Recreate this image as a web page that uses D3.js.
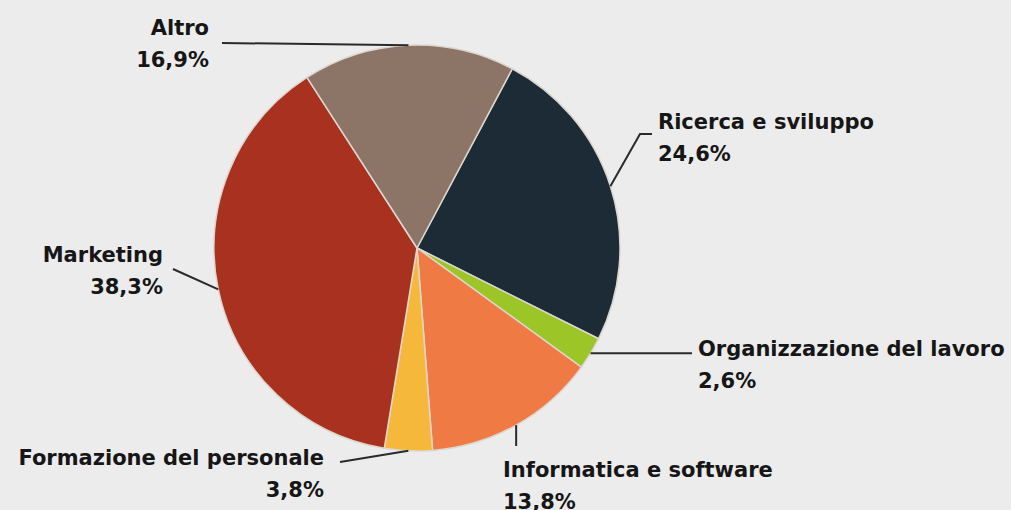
<!DOCTYPE html>
<html>
<head>
<meta charset="utf-8">
<script src="https://cdn.jsdelivr.net/npm/d3@7"></script>
<style>
  html, body { margin: 0; padding: 0; background: #ececec; }
  svg { display: block; }
  .lbl { font-family: "DejaVu Sans", sans-serif; font-weight: bold; font-size: 21px; fill: #161616; }
</style>
</head>
<body>
<svg id="chart"></svg>
<script>
// data, clockwise from the Ricerca slice
const categories = ["Ricerca e sviluppo", "Organizzazione del lavoro", "Informatica e software",
                    "Formazione del personale", "Marketing", "Altro"];
const values = [24.6, 2.6, 13.8, 3.8, 38.3, 16.9];
const valueLabels = ["24,6%", "2,6%", "13,8%", "3,8%", "38,3%", "16,9%"];
const colors = ["#1c2b35", "#9cc628", "#f07a43", "#f5b83a", "#a8321f", "#8c7467"];

const W = 1011, H = 510;
const cx = 417, cy = 248, R = 203;

// label layout, relative to pie centre: where the text sits and how the leader bends
const labelLayout = [
    { x: 241, y: -119, anchor: "start", path: (p) => [p, [223, -114], [235, -114]] },
    { x: 281, y: 108, anchor: "start", path: (p) => [p, [275, p[1]]] },
    { x: 86, y: 229, anchor: "start", path: (p) => [p, [p[0], 198]] },
    { x: -93, y: 217, anchor: "end", path: (p) => [p, [-77, 214]] },
    { x: -254, y: 14, anchor: "end", path: (p) => [p, [-244, 21]] },
    { x: -208, y: -213, anchor: "end", path: (p) => [p, [-195, -205]] }
];

const svg = d3.select("#chart")
    .attr("width", W)
    .attr("height", H);

svg.append("rect").attr("width", W).attr("height", H).attr("fill", "#ececec");

const g = svg.append("g").attr("transform", `translate(${cx},${cy})`);

const start = 28 * Math.PI / 180;
const pie = d3.pie().sort(null).value(d => d)
    .startAngle(start).endAngle(start + 2 * Math.PI);
const arcs = pie(values);

const arc = d3.arc().innerRadius(0).outerRadius(R);

g.selectAll("path.slice")
    .data(arcs)
    .enter().append("path")
    .attr("class", "slice")
    .attr("d", arc)
    .attr("fill", (d, i) => colors[i])
    .attr("stroke", "#ddd6cf")
    .attr("stroke-width", 1.5)
    .attr("stroke-linejoin", "round");

// leader lines start at the arc mid point
const line = d3.line();
arcs.forEach((d, i) => {
    const a = (d.startAngle + d.endAngle) / 2;
    const p = [R * Math.sin(a), -R * Math.cos(a)];
    const L = labelLayout[i];

    g.append("path")
        .attr("d", line(L.path(p)))
        .attr("fill", "none")
        .attr("stroke", "#2a2a2a")
        .attr("stroke-width", 2);

    const t = g.append("text")
        .attr("class", "lbl")
        .attr("text-anchor", L.anchor)
        .attr("x", L.x)
        .attr("y", L.y);
    t.append("tspan").attr("x", L.x).text(categories[i]);
    t.append("tspan").attr("x", L.x).attr("dy", 32).text(valueLabels[i]);
});
</script>
</body>
</html>
